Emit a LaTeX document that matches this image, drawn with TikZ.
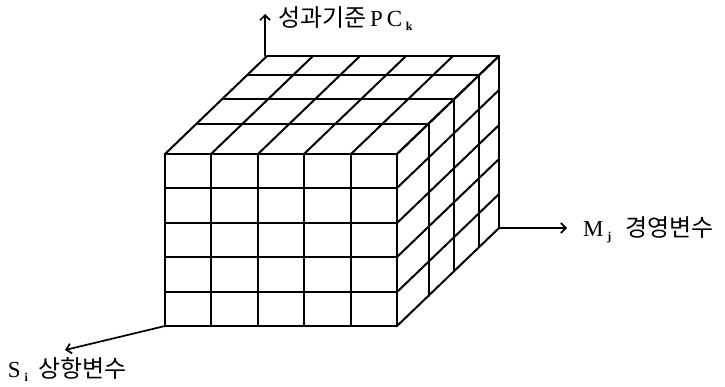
\documentclass[tikz,border=0pt]{standalone}
\usepackage{fontspec}
\setmainfont{Liberation Serif}
\newfontfamily\kr{Noto Sans CJK KR}
\usetikzlibrary{arrows.meta}
\begin{document}
\begin{tikzpicture}[x=1pt,y=-1pt, line width=2pt, line cap=round, line join=round,
  axis/.style={line width=1.7pt,-{Straight Barb[length=5pt,width=10pt,line width=1.7pt]}},
  lbl/.style={anchor=west,inner sep=0pt,font=\fontsize{23}{26}\selectfont}]
\newcommand{\subtxt}[1]{\raisebox{-4pt}{\fontsize{12}{12}\selectfont\bfseries #1}}
\newcommand{\krtxt}[1]{{\kr\fontsize{24}{26}\selectfont #1}}
\useasboundingbox (0,0) rectangle (725,386);
% front face and depth edges of the top face / rows of the right face
\foreach \xx in {165,211,258,304,351,397} {
  \draw (\xx,154) -- (\xx,326);
  \draw (\xx,154) -- ++(102,-98);
}
\foreach \yy in {154,188,223,257,292,326} {
  \draw (165,\yy) -- (397,\yy);
  \draw (397,\yy) -- ++(102,-98);
}
% depth layers (slight perspective)
\foreach \dx/\dy in {0/0,32/30,57/55,82/79,102/98} {
  \draw ({165+\dx},{154-\dy}) -- ({397+\dx},{154-\dy});
  \draw ({397+\dx},{154-\dy}) -- ({397+\dx},{326-\dy});
}
% axes
\coordinate (O) at (265,56);
\coordinate (Otip) at (265,14);
\coordinate (Mo) at (499,228);
\coordinate (Mtip) at (567,228);
\coordinate (So) at (165,326);
\coordinate (Stip) at (65,350);
\draw[axis] (O) -- (Otip);
\draw[axis] (Mo) -- (Mtip);
\draw[axis] (So) -- (Stip);
\node[lbl] (pc) at (277,19) {\krtxt{성과기준}\,P\,C\,\subtxt{k}};
\node[lbl] (mj) at (582,230) {M\,\subtxt{j}\hspace{0.6em}\krtxt{경영변수}};
\node[lbl] (si) at (7,369) {S\,\subtxt{i}\hspace{0.45em}\krtxt{상항변수}};
\end{tikzpicture}
\end{document}
